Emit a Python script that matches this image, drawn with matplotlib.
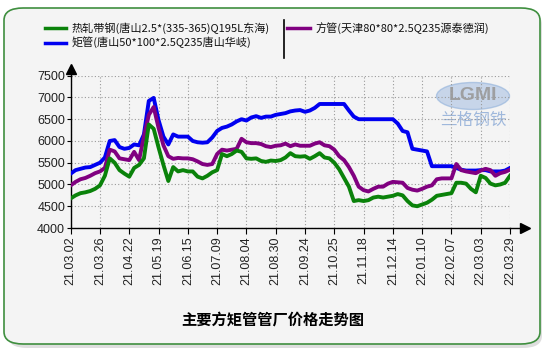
import matplotlib
matplotlib.use("Agg")
import matplotlib.pyplot as plt
from matplotlib.patches import FancyBboxPatch, Ellipse
from matplotlib.lines import Line2D

series_names = [
    "热轧带钢(唐山2.5*(335-365)Q195L东海)",
    "矩管(唐山50*100*2.5Q235唐山华岐)",
    "方管(天津80*80*2.5Q235源泰德润)",
]
series_colors = ["#0a820a", "#0000f0", "#800080"]

tick_labels = ["21.03.02", "21.03.26", "21.04.22", "21.05.19", "21.06.15", "21.07.09",
               "21.08.04", "21.08.30", "21.09.24", "21.10.25", "21.11.18", "21.12.14",
               "22.01.10", "22.02.07", "22.03.03", "22.03.29"]

hot_rolled = [4680, 4750, 4800, 4820, 4850, 4900, 4980, 5200, 5600, 5500, 5330, 5250,
              5180, 5380, 5450, 5600, 6380, 6280, 5850, 5450, 5080, 5400, 5300, 5330,
              5300, 5300, 5180, 5140, 5200, 5280, 5330, 5700, 5650, 5700, 5780, 5750,
              5600, 5590, 5600, 5540, 5520, 5550, 5540, 5560, 5620, 5720, 5650, 5640,
              5650, 5590, 5650, 5720, 5620, 5600, 5500, 5350, 5150, 4950, 4620, 4640,
              4620, 4640, 4700, 4720, 4700, 4720, 4740, 4780, 4750, 4620, 4520, 4500,
              4540, 4580, 4650, 4740, 4760, 4780, 4800, 5040, 5040, 5020, 4900, 4820,
              5200, 5150, 5020, 4980, 5000, 5040, 5200]

rect_tube = [5250, 5330, 5360, 5390, 5400, 5450, 5500, 5620, 6000, 6020, 5860, 5820,
             5840, 5920, 5900, 6150, 6920, 6990, 6480, 6100, 5920, 6150, 6100, 6100,
             6100, 6000, 5970, 5960, 5970, 6080, 6230, 6300, 6330, 6380, 6450, 6500,
             6470, 6540, 6570, 6530, 6560, 6560, 6600, 6620, 6640, 6680, 6700, 6710,
             6670, 6700, 6760, 6850, 6850, 6850, 6850, 6850, 6850, 6700, 6560, 6500,
             6500, 6500, 6500, 6500, 6500, 6500, 6500, 6400, 6230, 6200, 5820, 5800,
             5780, 5760, 5420, 5420, 5420, 5420, 5420, 5380, 5340, 5320, 5320, 5320,
             5330, 5330, 5300, 5300, 5300, 5320, 5380]

square_tube = [4980, 5060, 5120, 5150, 5200, 5260, 5300, 5380, 5800, 5760, 5600, 5580,
               5560, 5750, 5560, 6100, 6600, 6780, 6300, 5900, 5650, 5590, 5610, 5600,
               5600, 5580, 5530, 5470, 5450, 5470, 5700, 5800, 5780, 5800, 5820, 6050,
               5970, 5950, 5950, 5930, 5880, 5860, 5890, 5900, 5940, 5880, 5920, 5890,
               5890, 5890, 5940, 5970, 5900, 5880, 5800, 5650, 5560, 5400, 5200, 4950,
               4870, 4840, 4900, 4950, 4950, 5020, 5060, 5050, 5040, 4920, 4880, 4860,
               4900, 4950, 4980, 5120, 5140, 5140, 5140, 5470, 5330, 5300, 5280, 5260,
               5320, 5360, 5330, 5200, 5260, 5290, 5340]

y_ticks = [4000, 4500, 5000, 5500, 6000, 6500, 7000, 7500]
points_per_tick = 6

W, H = 550, 350
fig = plt.figure(figsize=(W / 100, H / 100), dpi=100)
fig.patch.set_facecolor("white")

# rounded frame with shadow
shadow = FancyBboxPatch((8 / W, 2 / H), 534 / W, 336 / H,
                        boxstyle="round,pad=0,rounding_size=0.035",
                        transform=fig.transFigure, facecolor="#c8c8c8",
                        edgecolor="none", alpha=0.6, zorder=0)
fig.patches.append(shadow)
frame = FancyBboxPatch((4 / W, 6 / H), 536 / W, 336 / H,
                       boxstyle="round,pad=0,rounding_size=0.035",
                       transform=fig.transFigure, facecolor="#f4f4f4",
                       edgecolor="#3f8f3f", linewidth=1.2, zorder=1)
fig.patches.append(frame)

# watermark
fig.patches.append(Ellipse((473 / W, 1 - 96 / H), 73 / W, 27 / H, transform=fig.transFigure,
                           facecolor="#a9c1e3", edgecolor="#8fb0da", alpha=0.6, zorder=2))
fig.text(473 / W, 1 - 96 / H, "LGMI", ha="center", va="center", fontsize=14, weight="bold",
         color="#9a9a9a", alpha=0.9, family="Liberation Sans", zorder=2)
fig.text(473 / W, 1 - 120 / H, "兰格钢铁", ha="center", va="center", fontsize=12,
         color="#9fb8dc", style="italic", family=["Noto Sans CJK SC"], zorder=2)

ax = fig.add_axes([70.7 / W, 1 - 228 / H, (510 - 70.7) / W, (228 - 75.7) / H])
ax.set_zorder(5)
ax.set_facecolor("none")

x = list(range(len(hot_rolled)))
ax.plot(x, rect_tube, color=series_colors[1], lw=2.8, zorder=3, solid_joinstyle="round")
ax.plot(x, square_tube, color=series_colors[2], lw=2.8, zorder=4, solid_joinstyle="round")
ax.plot(x, hot_rolled, color=series_colors[0], lw=2.8, zorder=5, solid_joinstyle="round")

ax.set_xlim(0, len(hot_rolled) - 1)
ax.set_ylim(y_ticks[0], y_ticks[-1])
xt = list(range(0, len(hot_rolled), points_per_tick))
ax.set_xticks(xt)
ax.set_xticklabels(tick_labels, rotation=90, fontsize=9, family="Liberation Sans", color="#222222")
ax.set_yticks(y_ticks)
ax.set_yticklabels([str(v) for v in y_ticks], fontsize=9, family="Liberation Sans", color="#222222")
ax.tick_params(axis="x", length=4, pad=2, width=0.8)
ax.tick_params(axis="y", length=3, pad=1, width=0.8)
ax.grid(True, color="#9a9a9a", linestyle=(0, (1, 2)), linewidth=0.8)
for s in ["top", "right"]:
    ax.spines[s].set_visible(False)
for s in ["left", "bottom"]:
    ax.spines[s].set_linewidth(1.0)
    ax.spines[s].set_color("black")

# axis arrows
ax.plot([1, 1.035], [0, 0], color="black", lw=1.0, transform=ax.transAxes, clip_on=False)
ax.plot(1.035, 0, marker=">", color="black", markersize=7, transform=ax.transAxes, clip_on=False)
ax.plot([0, 0], [1, 1.04], color="black", lw=1.0, transform=ax.transAxes, clip_on=False)
ax.plot(0, 1.045, marker="^", color="black", markersize=7, transform=ax.transAxes, clip_on=False)

# legend
leg_font = ["Noto Sans CJK SC", "DejaVu Sans"]
rows = [(45, 66, 72, 27.7, 0), (45, 66, 72, 42.5, 1), (287, 310, 316, 27.7, 2)]
for x0, x1, tx, yy, k in rows:
    fig.lines.append(Line2D([x0 / W, x1 / W], [1 - yy / H, 1 - yy / H], transform=fig.transFigure,
                            color=series_colors[k], lw=2.5, zorder=3))
    fig.text(tx / W, 1 - yy / H, series_names[k], ha="left", va="center", fontsize=8,
             family=leg_font, color="#111111", zorder=3)
fig.lines.append(Line2D([284 / W, 284 / W], [1 - 20 / H, 1 - 58 / H], transform=fig.transFigure,
                        color="black", lw=1.2, zorder=3))

fig.text(273 / W, 1 - 320 / H, "主要方矩管管厂价格走势图", ha="center", va="center",
         fontsize=11, weight="bold", family=leg_font, color="black", zorder=3)

fig.savefig("out.png", dpi=100, facecolor="white")
